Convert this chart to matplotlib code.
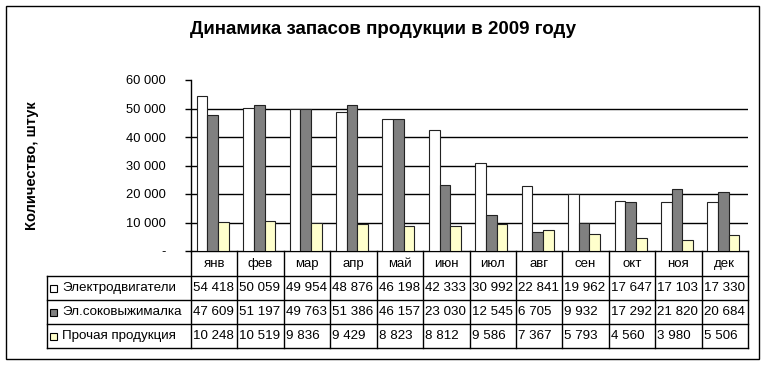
import numpy as np
import matplotlib.pyplot as plt
from matplotlib.patches import Rectangle

months = ["янв", "фев", "мар", "апр", "май", "июн", "июл", "авг", "сен", "окт", "ноя", "дек"]
series_names = ["Электродвигатели", "Эл.соковыжималка", "Прочая продукция"]
motors = [54418, 50059, 49954, 48876, 46198, 42333, 30992, 22841, 19962, 17647, 17103, 17330]
juicers = [47609, 51197, 49763, 51386, 46157, 23030, 12545, 6705, 9932, 17292, 21820, 20684]
other = [10248, 10519, 9836, 9429, 8823, 8812, 9586, 7367, 5793, 4560, 3980, 5506]
colors = ["#ffffff", "#808080", "#ffffcc"]
yticks = [0, 10000, 20000, 30000, 40000, 50000, 60000]

plt.rcParams['font.family'] = ['Liberation Sans', 'DejaVu Sans']

W, H = 765, 366
fig = plt.figure(figsize=(W / 100, H / 100), dpi=100)

def fx(px):
    return px / W

def fy(py):
    return 1 - py / H

# outer frame
fig.patches.append(Rectangle((fx(6), fy(359)), fx(753), (359 - 6) / H, transform=fig.transFigure,
                             fill=False, edgecolor='black', linewidth=1))

ax_left, ax_right, ax_top, ax_bot = 191, 748, 80, 251
ax = fig.add_axes([fx(ax_left), fy(ax_bot), fx(ax_right - ax_left), (ax_bot - ax_top) / H])

x = np.arange(len(months))
bw = 0.23
for i, vals in enumerate([motors, juicers, other]):
    ax.bar(x + (i - 1) * bw - 0.03, vals, width=bw, color=colors[i], edgecolor='#222222',
           linewidth=0.8, zorder=3)

ax.set_xlim(-0.5, len(months) - 0.5)
ax.set_ylim(0, 60000)
ax.set_yticks(yticks)
ax.set_yticklabels(["-"] + [f"{v:,}".replace(",", " ") for v in yticks[1:]], fontsize=9.3)
ax.tick_params(axis='y', length=4, width=1, pad=14)
ax.set_xticks([])
for v in yticks[1:-1]:
    ax.axhline(v, color='black', linewidth=1, zorder=1)
for s in ['top', 'right']:
    ax.spines[s].set_visible(False)
ax.spines['left'].set_linewidth(1)
ax.spines['bottom'].set_linewidth(1)

fig.text(fx(383), fy(30), "Динамика запасов продукции в 2009 году", ha='center', va='center',
         fontsize=13.5, fontweight='bold')
fig.text(fx(32), fy(166), "Количество, штук", rotation=90, ha='center', va='center',
         fontsize=10.5, fontweight='bold')

# data table
tab_left = 47
col_w = (ax_right - ax_left) / len(months)
row_edges = [251, 276, 300, 324, 348]
lk = dict(color='black', linewidth=1, transform=fig.transFigure)
for r in row_edges[1:]:
    fig.add_artist(plt.Line2D([fx(tab_left), fx(ax_right)], [fy(r), fy(r)], **lk))
fig.add_artist(plt.Line2D([fx(tab_left), fx(tab_left)], [fy(276), fy(348)], **lk))
for j in range(len(months) + 1):
    xp = ax_left + j * col_w
    fig.add_artist(plt.Line2D([fx(xp), fx(xp)], [fy(251), fy(348)], **lk))

for j, m in enumerate(months):
    xc = ax_left + (j + 0.5) * col_w
    fig.text(fx(xc), fy(264), m, ha='center', va='center', fontsize=9.5)

for i, (name, vals) in enumerate(zip(series_names, [motors, juicers, other])):
    yc = (row_edges[i + 1] + row_edges[i + 2]) / 2
    fig.patches.append(Rectangle((fx(50), fy(yc + 3.5)), fx(7), 7 / H, transform=fig.transFigure,
                                 facecolor=colors[i], edgecolor='black', linewidth=0.8))
    fig.text(fx(62), fy(yc), name, ha='left', va='center', fontsize=9.6)
    for j, v in enumerate(vals):
        fig.text(fx(ax_left + j * col_w + 2), fy(yc), f"{v:,}".replace(",", " "),
                 ha='left', va='center', fontsize=9.6)

fig.savefig("out.png", dpi=100)
